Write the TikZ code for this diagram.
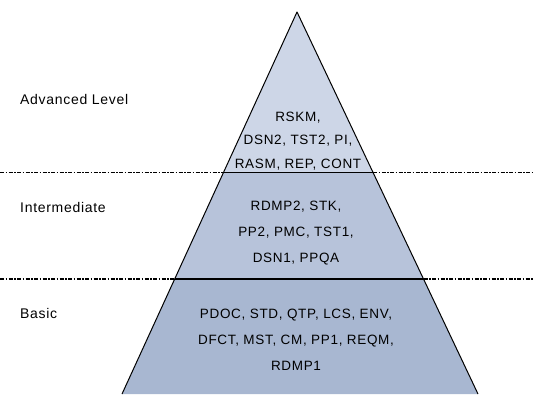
\documentclass[tikz,border=0pt]{standalone}
\usepackage{fontspec}
\setmainfont{Liberation Sans}
\newfontfamily\spacedfont[LetterSpace=5]{Liberation Sans}
\begin{document}
\begin{tikzpicture}[x=1pt,y=-1pt,
  lvl/.style={anchor=west,font=\spacedfont\fontsize{14}{16}\selectfont,inner sep=0pt},
  items/.style={align=center,font=\spacedfont\fontsize{13.5}{26}\selectfont,inner sep=0pt},
  advitems/.style={align=center,font=\spacedfont\fontsize{13.5}{23.5}\selectfont,inner sep=0pt},
  divider/.style={line width=1.3pt,dash pattern=on 4pt off 1.5pt on 1.5pt off 1.5pt},
  inner/.style={line width=1.1pt},
  edge/.style={line width=1pt,line join=round}]
\useasboundingbox (0,0) rectangle (534,394);
\coordinate (apex) at (297,12);
\coordinate (l1) at (223.5,172.5);
\coordinate (r1) at (373,172.5);
\coordinate (l2) at (174.7,279);
\coordinate (r2) at (423.6,279);
\coordinate (lb) at (122,394);
\coordinate (rb) at (478,394);
\coordinate (w1) at (0,172.5);
\coordinate (e1) at (534,172.5);
\coordinate (w2) at (0,279);
\coordinate (e2) at (534,279);
\fill[fill={rgb,255:red,205;green,214;blue,231}] (apex) -- (r1) -- (l1) -- cycle;
\fill[fill={rgb,255:red,183;green,195;blue,218}] (l1) -- (r1) -- (r2) -- (l2) -- cycle;
\fill[fill={rgb,255:red,168;green,183;blue,209}] (l2) -- (r2) -- (rb) -- (lb) -- cycle;
\draw[divider] (w1) -- (l1);
\draw[divider] (r1) -- (e1);
\draw[divider] (w2) -- (l2);
\draw[divider] (r2) -- (e2);
\draw[inner] (l1) -- (r1);
\draw[inner] (l2) -- (r2);
\draw[edge] (lb) -- (apex) -- (rb);
\node[lvl] (adv) at (20,99) {Advanced Level};
\node[lvl] (int) at (20,207) {Intermediate};
\node[lvl] (bas) at (20,313) {Basic};
\node[advitems] (advt) at (298,141) {RSKM,\\DSN2, TST2, PI,\\RASM, REP, CONT};
\node[items] (intt) at (296,233) {RDMP2, STK,\\PP2, PMC, TST1,\\DSN1, PPQA};
\node[items] (bast) at (296,339.5) {PDOC, STD, QTP, LCS, ENV,\\DFCT, MST, CM, PP1, REQM,\\RDMP1};
\end{tikzpicture}
\end{document}
